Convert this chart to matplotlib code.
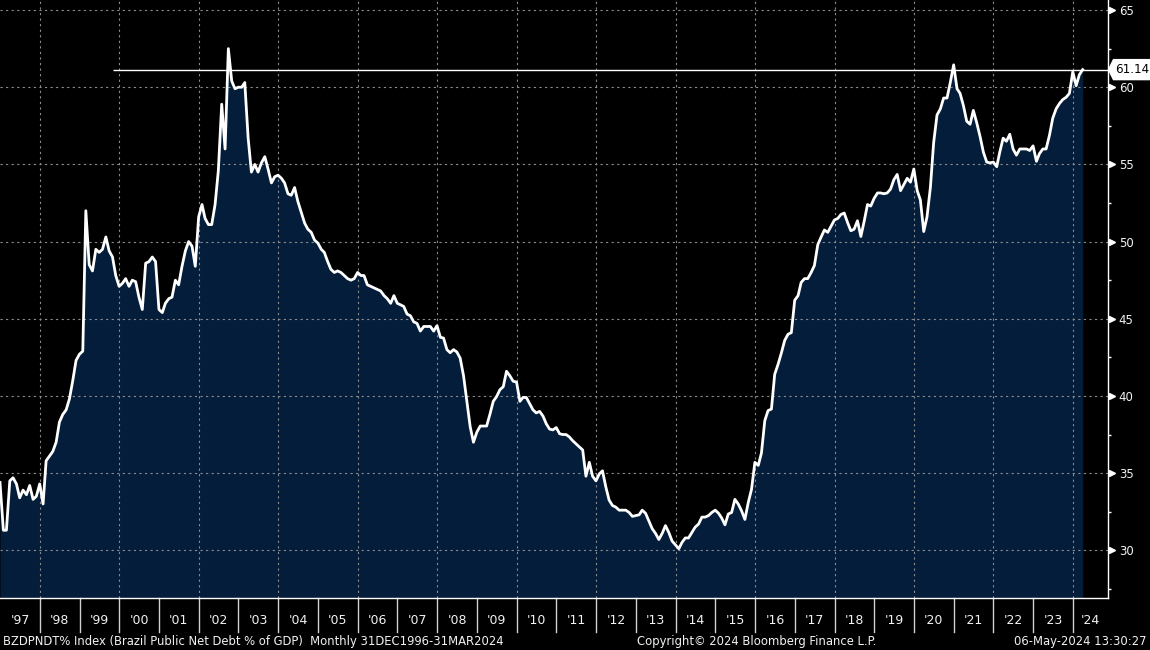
import numpy as np
import pandas as pd
import matplotlib
matplotlib.use("Agg")
from matplotlib import pyplot as plt
from matplotlib import transforms
from matplotlib.patches import Polygon
from matplotlib.ticker import MultipleLocator

# Brazil public net debt, % of GDP, month-end values Dec 1996 .. Mar 2024
net_debt = [
    34.4,                                                                     # 1996-12
    31.3, 31.3, 34.5, 34.7, 34.3, 33.4, 33.9, 33.6, 34.2, 33.3, 33.5, 34.3,   # 1997
    33.0, 35.8, 36.1, 36.4, 37.0, 38.3, 38.8, 39.1, 39.8, 41.0, 42.3, 42.7,   # 1998
    42.9, 52.0, 48.5, 48.1, 49.5, 49.3, 49.5, 50.3, 49.4, 49.0, 47.8, 47.1,   # 1999
    47.3, 47.6, 47.1, 47.5, 47.4, 46.4, 45.6, 48.6, 48.7, 49.0, 48.7, 45.6,   # 2000
    45.4, 46.0, 46.3, 46.4, 47.5, 47.2, 48.4, 49.4, 50.0, 49.7, 48.4, 51.6,   # 2001
    52.4, 51.5, 51.1, 51.1, 52.4, 54.6, 58.9, 56.0, 62.5, 60.4, 59.9, 60.0,   # 2002
    60.0, 60.3, 56.7, 54.5, 55.0, 54.5, 55.1, 55.5, 54.7, 53.8, 54.2, 54.3,   # 2003
    54.1, 53.8, 53.1, 53.0, 53.5, 52.6, 51.9, 51.2, 50.8, 50.6, 50.1, 49.9,   # 2004
    49.5, 49.3, 48.7, 48.2, 48.0, 48.1, 48.0, 47.8, 47.6, 47.5, 47.6, 48.0,   # 2005
    47.8, 47.8, 47.2, 47.1, 47.0, 46.9, 46.8, 46.5, 46.3, 46.0, 46.5, 46.0,   # 2006
    45.9, 45.8, 45.3, 45.2, 44.8, 44.7, 44.2, 44.5, 44.5, 44.5, 44.2, 44.55,  # 2007
    43.8, 43.75, 43.0, 42.8, 43.0, 42.85, 42.45, 41.3, 39.7, 38.0, 37.0, 37.65,  # 2008
    38.05, 38.05, 38.05, 38.8, 39.65, 39.95, 40.4, 40.6, 41.6, 41.3, 40.95, 40.9,  # 2009
    39.65, 39.9, 39.9, 39.5, 39.1, 38.9, 39.0, 38.7, 38.2, 37.85, 37.8, 37.95,  # 2010
    37.55, 37.5, 37.5, 37.35, 37.1, 36.9, 36.7, 36.5, 34.8, 35.7, 34.8, 34.5,   # 2011
    34.95, 35.15, 34.1, 33.25, 32.9, 32.8, 32.6, 32.6, 32.6, 32.45, 32.2, 32.25,  # 2012
    32.3, 32.6, 32.4, 31.9, 31.4, 31.1, 30.7, 31.1, 31.6, 31.15, 30.6, 30.35,   # 2013
    30.1, 30.5, 30.8, 30.8, 31.15, 31.5, 31.7, 32.15, 32.15, 32.25, 32.45, 32.6,  # 2014
    32.4, 32.1, 31.65, 32.35, 32.45, 33.3, 33.0, 32.55, 32.0, 33.1, 33.95, 35.7,  # 2015
    35.5, 36.3, 38.4, 39.05, 39.15, 41.4, 42.05, 42.8, 43.6, 44.0, 44.1, 46.2,   # 2016
    46.5, 47.35, 47.6, 47.6, 48.0, 48.45, 49.8, 50.3, 50.75, 50.6, 51.0, 51.4,   # 2017
    51.5, 51.75, 51.85, 51.25, 50.7, 50.8, 51.35, 50.33, 51.3, 52.4, 52.3, 52.8,  # 2018
    53.15, 53.15, 53.1, 53.15, 53.4, 54.0, 54.35, 53.3, 53.7, 54.1, 53.85, 54.7,  # 2019
    53.3, 52.7, 50.65, 51.6, 53.5, 56.4, 58.2, 58.6, 59.3, 59.3, 60.3, 61.45,   # 2020
    59.9, 59.6, 58.8, 57.8, 57.6, 58.5, 57.7, 56.8, 55.8, 55.15, 55.1, 55.15,   # 2021
    54.85, 55.8, 56.7, 56.5, 56.95, 56.0, 55.6, 56.0, 56.0, 56.0, 55.9, 56.2,   # 2022
    55.2, 55.7, 56.0, 56.0, 56.9, 58.0, 58.6, 58.95, 59.2, 59.35, 59.6, 61.0,   # 2023
    60.1, 60.8, 61.14,                                                        # 2024
]
dates = pd.date_range("1996-12-31", "2024-03-31", freq="ME")

years = list(range(1997, 2025))
year_labels = ["'%02d" % (y % 100) for y in years]
y_ticks = [30, 35, 40, 45, 50, 55, 60, 65]
footer_left = "BZDPNDT% Index (Brazil Public Net Debt % of GDP)  Monthly 31DEC1996-31MAR2024"
footer_mid = "Copyright\u00a9 2024 Bloomberg Finance L.P."
footer_right = "06-May-2024 13:30:27"

W, H = 1150, 650
fill_color = "#031d3a"
grid_color = "#8c8c8c"
text_color = "#f2f2f2"
y_lo, y_hi = 26.91, 65.65

fig = plt.figure(figsize=(W / 100, H / 100), dpi=100, facecolor="black")
ax = fig.add_axes([0.0, 1 - 598 / H, 1107.7 / W, 598 / H])
ax.set_facecolor("black")

x_left = pd.Timestamp("1996-12-31")
x_right = pd.Timestamp("2024-11-16")
ax.set_xlim(x_left, x_right)
ax.set_ylim(y_lo, y_hi)

ax.fill_between(dates, net_debt, y_lo, color=fill_color, lw=0, zorder=1)
ax.plot(dates, net_debt, color="white", lw=2.0, zorder=4)

# last value line
last = net_debt[-1]
ax.hlines(last, pd.Timestamp("1999-11-05"), x_right, color="white", lw=1.0, zorder=5)

# grid: every 5 on y, every second January on x
ax.set_yticks(y_ticks)
grid_years = [pd.Timestamp(f"{y}-01-01") for y in range(1998, 2025, 2)]
ax.set_xticks(grid_years)
ax.tick_params(axis="x", length=0, labelbottom=False)
ax.grid(True, color=grid_color, ls=(0, (2, 3)), lw=0.8, zorder=2)

# right axis
ax.yaxis.tick_right()
ax.yaxis.set_minor_locator(MultipleLocator(2.5))
ax.tick_params(axis="y", which="major", length=0, pad=8, labelsize=8.5, labelcolor=text_color)
ax.tick_params(axis="y", which="minor", length=2.5, width=1, color="white", direction="out")
for s in ["top", "left"]:
    ax.spines[s].set_visible(False)
for s in ["right", "bottom"]:
    ax.spines[s].set_color("white")
    ax.spines[s].set_linewidth(1.0)

# small pointers on the major ticks
tick_tr = transforms.blended_transform_factory(ax.transAxes, ax.transData)
ax.plot([1.0035] * len(y_ticks), y_ticks, ls="none", marker=">", ms=5, mfc="white",
        mec="white", transform=tick_tr, clip_on=False, zorder=6)

# year labels and separators under the plot
sep_tr = transforms.blended_transform_factory(ax.transData, fig.transFigure)
for y, lab in zip(years, year_labels):
    start = max(pd.Timestamp(f"{y}-01-01"), x_left)
    end = min(pd.Timestamp(f"{y + 1}-01-01"), x_right)
    mid = start + (end - start) / 2
    ax.text(mid, 1 - 621 / H, lab, transform=sep_tr, ha="center", va="center",
            color=text_color, fontsize=9)
    if y > 1997:
        ax.plot([start, start], [1 - 598 / H, 1 - 632 / H], color="#d0d0d0", lw=1.0,
                transform=sep_tr, clip_on=False)

# value tag on the right
tag_tr = transforms.blended_transform_factory(fig.transFigure, ax.transData)
half = 10 / (598 / (y_hi - y_lo))
tag = Polygon([(1108.5 / W, last), (1113.5 / W, last + half), (1.0, last + half),
               (1.0, last - half), (1113.5 / W, last - half)], closed=True,
              facecolor="white", edgecolor="white", transform=tag_tr, clip_on=False, zorder=7)
fig.patches.append(tag)
fig.text(1132 / W, last, "%.2f" % last, transform=tag_tr, ha="center", va="center",
         color="black", fontsize=9.5, fontstretch="condensed", zorder=8)

# footer
fs = 9.3
fig.text(3 / W, 1 - 641 / H, footer_left, color=text_color, fontsize=fs, ha="left",
         va="center", fontstretch="condensed")
fig.text(757 / W, 1 - 641 / H, footer_mid, color=text_color, fontsize=fs, ha="center",
         va="center", fontstretch="condensed")
fig.text(1147 / W, 1 - 641 / H, footer_right, color=text_color, fontsize=fs, ha="right",
         va="center", fontstretch="condensed")

fig.savefig("out.png", dpi=100, facecolor="black")
